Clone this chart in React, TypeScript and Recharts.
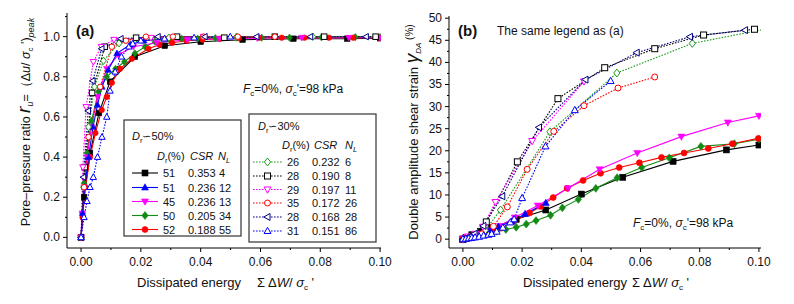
import React from 'react';
import { LineChart, Line, XAxis, YAxis } from 'recharts';

// ---- data: ΣΔW/σc' with r_u and γDA(%) at the same points ----
// Dr ~ 50 %, solid lines
const x4 = [0, 0.001, 0.003, 0.006, 0.0097, 0.018, 0.028, 0.040, 0.054, 0.071, 0.089, 0.1];
const ru4 = [0, 0.2, 0.42, 0.62, 0.776, 0.9, 0.955, 0.975, 0.985, 0.99, 0.99, 0.992];
const ga4 = [0, 0.3, 1.0, 1.8, 2.6, 4.5, 6.6, 10.2, 14.0, 17.6, 20.2, 21.3];

const x12 = [0, 0.0005, 0.0012, 0.0025, 0.004, 0.0055, 0.007, 0.0091, 0.012, 0.0164, 0.021, 0.028];
const ru12 = [0, 0.12, 0.25, 0.4, 0.55, 0.66, 0.75, 0.834, 0.917, 0.96, 0.98, 0.99];
const ga12 = [0, 0.1, 0.25, 0.5, 0.8, 1.1, 1.5, 2.0, 2.8, 4.0, 5.7, 8.2];

const x13 = [0, 0.0004, 0.001, 0.002, 0.0035, 0.0055, 0.0086, 0.0125, 0.0175, 0.0253, 0.0355, 0.0462, 0.0589, 0.0738, 0.0895, 0.1];
const ru13 = [0, 0.12, 0.25, 0.4, 0.55, 0.7, 0.84, 0.91, 0.95, 0.97, 0.985, 0.99, 0.993, 0.995, 0.995, 0.995];
const ga13 = [0, 0.1, 0.2, 0.4, 0.7, 1.1, 1.9, 3.0, 4.9, 7.6, 11.5, 15.8, 19.5, 23.2, 26.4, 27.9];

const x34 = [0, 0.0004, 0.001, 0.002, 0.0035, 0.0058, 0.0086, 0.0115, 0.0145, 0.018, 0.0214, 0.0247, 0.0296, 0.0336, 0.039, 0.0449, 0.0521, 0.0604, 0.0697, 0.0804, 0.0917, 0.1];
const ru34 = [0, 0.12, 0.27, 0.42, 0.58, 0.726, 0.8, 0.84, 0.875, 0.917, 0.95, 0.975, 0.985, 0.99, 0.99, 0.993, 0.995, 0.995, 0.995, 0.997, 0.998, 0.998];
const ga34 = [0, 0.1, 0.2, 0.35, 0.6, 1.0, 1.4, 1.8, 2.2, 2.7, 3.4, 4.2, 5.4, 7.1, 9.0, 11.5, 13.9, 16.2, 18.4, 21.0, 21.6, 22.6];

const x55 = [0, 0.0005, 0.0015, 0.003, 0.0048, 0.0069, 0.0086, 0.0103, 0.013, 0.017, 0.0225, 0.0262, 0.0305, 0.0352, 0.0406, 0.0465, 0.0528, 0.0596, 0.0671, 0.0747, 0.0829, 0.091, 0.0998];
const ru55 = [0, 0.1, 0.25, 0.4, 0.52, 0.635, 0.7, 0.77, 0.84, 0.89, 0.94, 0.96, 0.97, 0.98, 0.985, 0.99, 0.993, 0.995, 0.995, 0.995, 0.995, 0.995, 0.995];
const ga55 = [0, 0.1, 0.25, 0.45, 0.7, 1.0, 1.3, 1.7, 2.5, 4.0, 5.9, 7.4, 9.4, 11.5, 13.3, 14.9, 16.2, 17.3, 18.5, 19.5, 20.5, 21.6, 22.8];

// Dr ~ 30 %, dotted lines
const x6 = [0, 0.0008, 0.0025, 0.0045, 0.0075, 0.0127, 0.0294, 0.052, 0.0775, 0.105];
const ru6 = [0, 0.25, 0.55, 0.75, 0.88, 0.967, 0.995, 1.0, 1.0, 1.0];
const ga6 = [0, 0.2, 0.5, 1.0, 2.0, 6.6, 24.3, 37.6, 44.3, 47.9];

const x8 = [0, 0.0012, 0.0037, 0.0079, 0.0184, 0.0321, 0.0479, 0.0648, 0.0813, 0.0985];
const ru8 = [0, 0.35, 0.72, 0.95, 0.995, 1.0, 0.995, 1.0, 1.0, 1.0];
const ga8 = [0, 0.3, 0.9, 3.9, 17.5, 31.8, 38.8, 43.1, 46.2, 47.5];

const x11 = [0, 0.0006, 0.0017, 0.0041, 0.0068, 0.011, 0.0234, 0.0409];
const ru11 = [0, 0.35, 0.65, 0.875, 0.95, 0.985, 0.995, 1.0];
const ga11 = [0, 0.2, 0.6, 1.2, 2.8, 8.4, 22.2, 35.7];

const x26 = [0, 0.001, 0.0025, 0.0064, 0.0103, 0.015, 0.0217, 0.0307, 0.0409, 0.0524, 0.0648];
const ru26 = [0, 0.25, 0.5, 0.75, 0.95, 0.98, 1.0, 1.0, 1.0, 1.0, 1.0];
const ga26 = [0, 0.2, 0.5, 1.2, 2.9, 7.3, 15.8, 24.4, 30.2, 34.2, 36.7];

const x28 = [0, 0.0008, 0.0024, 0.0039, 0.0069, 0.0133, 0.0257, 0.0414, 0.0587, 0.0767, 0.0953];
const ru28 = [0, 0.3, 0.63, 0.78, 0.94, 0.99, 1.0, 1.0, 1.0, 1.0, 1.0];
const ga28 = [0, 0.2, 0.6, 1.2, 3.0, 9.7, 25.3, 36.1, 42.2, 45.8, 47.3];

const x86 = [0, 0.001, 0.002, 0.003, 0.0041, 0.0055, 0.007, 0.0086, 0.0097, 0.0114, 0.0135, 0.016, 0.0173, 0.02, 0.0279, 0.0378, 0.0499];
const ru86 = [0, 0.1, 0.18, 0.25, 0.3, 0.4, 0.5, 0.6, 0.73, 0.825, 0.9, 0.95, 0.965, 0.98, 0.99, 0.995, 1.0];
const ga86 = [0, 0.1, 0.2, 0.3, 0.4, 0.55, 0.8, 1.0, 1.2, 1.7, 2.6, 3.8, 4.5, 9.3, 21.0, 29.2, 35.8];

// legend tables
const dr50 = ['51', '51', '45', '50', '52'];
const csr50 = ['0.353', '0.236', '0.236', '0.205', '0.188'];
const nl50 = ['4', '12', '13', '34', '55'];
const dr30 = ['26', '28', '29', '35', '28', '31'];
const csr30 = ['0.232', '0.190', '0.197', '0.172', '0.168', '0.151'];
const nl30 = ['6', '8', '11', '26', '28', '86'];

// ticks
const xTicks = [0, 0.01, 0.02, 0.03, 0.04, 0.05, 0.06, 0.07, 0.08, 0.09, 0.1];
const xMajor = [0, 0.02, 0.04, 0.06, 0.08, 0.1];
const ruTicks = [0, 0.1, 0.2, 0.3, 0.4, 0.5, 0.6, 0.7, 0.8, 0.9, 1.0, 1.1];
const ruMajor = [0, 0.2, 0.4, 0.6, 0.8, 1.0];
const gaTicks = [0, 2.5, 5, 7.5, 10, 12.5, 15, 17.5, 20, 22.5, 25, 27.5, 30, 32.5, 35, 37.5, 40, 42.5, 45, 47.5, 50];
const gaMajor = [0, 5, 10, 15, 20, 25, 30, 35, 40, 45, 50];

const FONT = '"Liberation Sans", Arial, sans-serif';

type Style = { color: string; shape: string; filled: boolean };
const styles: Record<string, Style> = {
  t4: { color: '#000000', shape: 'square', filled: true },
  t12: { color: '#0000ff', shape: 'up', filled: true },
  t13: { color: '#ff00ff', shape: 'down', filled: true },
  t34: { color: '#138a13', shape: 'diamond', filled: true },
  t55: { color: '#ff0000', shape: 'circle', filled: true },
  t6: { color: '#1e9a1e', shape: 'diamond', filled: false },
  t8: { color: '#000000', shape: 'square', filled: false },
  t11: { color: '#ff00ff', shape: 'down', filled: false },
  t26: { color: '#ff0000', shape: 'circle', filled: false },
  t28: { color: '#000080', shape: 'left', filled: false },
  t86: { color: '#0000ff', shape: 'up', filled: false },
};

const pts = (xs: number[], ys: number[]) => xs.map((x, i) => ({ x, y: ys[i] }));

// drawing order: solid tests first, dotted on top
const series = [
  { id: 't4', a: pts(x4, ru4), b: pts(x4, ga4) },
  { id: 't34', a: pts(x34, ru34), b: pts(x34, ga34) },
  { id: 't55', a: pts(x55, ru55), b: pts(x55, ga55) },
  { id: 't13', a: pts(x13, ru13), b: pts(x13, ga13) },
  { id: 't12', a: pts(x12, ru12), b: pts(x12, ga12) },
  { id: 't6', a: pts(x6, ru6), b: pts(x6, ga6) },
  { id: 't8', a: pts(x8, ru8), b: pts(x8, ga8) },
  { id: 't11', a: pts(x11, ru11), b: pts(x11, ga11) },
  { id: 't26', a: pts(x26, ru26), b: pts(x26, ga26) },
  { id: 't28', a: pts(x28, ru28), b: pts(x28, ga28) },
  { id: 't86', a: pts(x86, ru86), b: pts(x86, ga86) },
];

function Marker({ cx, cy, st, size }: { cx: number; cy: number; st: Style; size: number }) {
  const s = size;
  const fill = st.filled ? st.color : '#ffffff';
  const sw = st.filled ? 0.6 : 1;
  const p = { fill, stroke: st.color, strokeWidth: sw };
  if (st.shape === 'square') return <rect x={cx - s / 2} y={cy - s / 2} width={s} height={s} {...p} />;
  if (st.shape === 'circle') return <circle cx={cx} cy={cy} r={s / 2} {...p} />;
  let d = '';
  if (st.shape === 'up') d = `${cx},${cy - s * 0.62} ${cx - s * 0.58},${cy + s * 0.42} ${cx + s * 0.58},${cy + s * 0.42}`;
  if (st.shape === 'down') d = `${cx},${cy + s * 0.62} ${cx - s * 0.58},${cy - s * 0.42} ${cx + s * 0.58},${cy - s * 0.42}`;
  if (st.shape === 'left') d = `${cx - s * 0.62},${cy} ${cx + s * 0.42},${cy - s * 0.58} ${cx + s * 0.42},${cy + s * 0.58}`;
  if (st.shape === 'diamond') d = `${cx},${cy - s * 0.66} ${cx + s * 0.52},${cy} ${cx},${cy + s * 0.66} ${cx - s * 0.52},${cy}`;
  return <polygon points={d} {...p} />;
}

const isIn = (arr: number[], v: number) => arr.some((m) => Math.abs(m - v) < 1e-9);

type Geo = { left: number; right: number; top: number; bottom: number };

const xTickBottom = (g: Geo) => (props: any) => {
  const { x, payload } = props;
  const major = isIn(xMajor, payload.value);
  return (
    <g>
      <line x1={x} x2={x} y1={g.bottom} y2={g.bottom + (major ? 4 : 2)} stroke="#000" />
      {major && (
        <text x={x} y={266} textAnchor="middle" fontSize={12} fill="#111" fontFamily={FONT}>
          {payload.value.toFixed(2)}
        </text>
      )}
    </g>
  );
};

const xTickTop = (g: Geo) => (props: any) => {
  const { x, payload } = props;
  const major = isIn(xMajor, payload.value);
  return <line x1={x} x2={x} y1={g.top} y2={g.top - (major ? 4 : 2)} stroke="#000" />;
};

const yTickLeft = (g: Geo, majors: number[], fmt: (v: number) => string, gap: number) => (props: any) => {
  const { y, payload } = props;
  const major = isIn(majors, payload.value);
  return (
    <g>
      <line x1={g.left} x2={g.left - (major ? 4 : 2)} y1={y} y2={y} stroke="#000" />
      {major && (
        <text x={g.left - gap} y={y + 4} textAnchor="end" fontSize={12} fill="#111" fontFamily={FONT}>
          {fmt(payload.value)}
        </text>
      )}
    </g>
  );
};

const yTickRight = (g: Geo, majors: number[]) => (props: any) => {
  const { y, payload } = props;
  const major = isIn(majors, payload.value);
  return <line x1={g.right} x2={g.right - (major ? 4 : 2)} y1={y} y2={y} stroke="#000" />;
};

function Panel(props: {
  width: number;
  geo: Geo;
  which: 'a' | 'b';
  yDomain: [number, number];
  yTicks: number[];
  yMajor: number[];
  yFmt: (v: number) => string;
  labelGap: number;
  xDomain: [number, number];
}) {
  const { width, geo, which, yDomain, yTicks, yMajor, yFmt, labelGap, xDomain } = props;
  const size = which === 'a' ? 5.5 : 6;
  return (
    <LineChart
      width={width}
      height={304}
      margin={{ top: geo.top, right: width - geo.right, bottom: 0, left: 0 }}
    >
      <XAxis
        xAxisId="x"
        dataKey="x"
        type="number"
        domain={xDomain}
        allowDataOverflow
        ticks={xTicks}
        interval={0}
        height={304 - geo.bottom}
        tickLine={false}
        tick={xTickBottom(geo)}
        axisLine={{ stroke: '#000' }}
      />
      <XAxis
        xAxisId="xt"
        orientation="top"
        type="number"
        domain={xDomain}
        allowDataOverflow
        ticks={xTicks}
        interval={0}
        height={0}
        tickLine={false}
        tick={xTickTop(geo)}
        axisLine={{ stroke: '#000' }}
      />
      <YAxis
        yAxisId="y"
        type="number"
        domain={yDomain}
        allowDataOverflow
        ticks={yTicks}
        interval={0}
        width={geo.left}
        tickLine={false}
        tick={yTickLeft(geo, yMajor, yFmt, labelGap)}
        axisLine={{ stroke: '#000' }}
      />
      <YAxis
        yAxisId="yr"
        orientation="right"
        type="number"
        domain={yDomain}
        allowDataOverflow
        ticks={yTicks}
        interval={0}
        width={0}
        tickLine={false}
        tick={yTickRight(geo, yMajor)}
        axisLine={{ stroke: '#000' }}
      />
      {series.map((s) => {
        const st = styles[s.id];
        return (
          <Line
            key={s.id}
            xAxisId="x"
            yAxisId="y"
            data={which === 'a' ? s.a : s.b}
            dataKey="y"
            type="linear"
            stroke={st.color}
            strokeWidth={1.1}
            strokeDasharray={st.filled ? undefined : '1.6 1.4'}
            isAnimationActive={false}
            dot={(p: any) =>
              p.cx == null || p.cy == null ? (
                <g key={`${s.id}-${p.index}`} />
              ) : (
                <g key={`${s.id}-${p.index}`}>
                  <Marker cx={p.cx} cy={p.cy} st={st} size={size} />
                </g>
              )
            }
            activeDot={false}
          />
        );
      })}
    </LineChart>
  );
}

function LegendRow({ x0, x1, y, id, dr, csr, nl, cols }: any) {
  const st = styles[id];
  const ly = y - 4;
  return (
    <g>
      <line x1={x0} x2={x1} y1={ly} y2={ly} stroke={st.color} strokeWidth={1.1} strokeDasharray={st.filled ? undefined : '1.6 1.4'} />
      <Marker cx={(x0 + x1) / 2} cy={ly} st={st} size={6} />
      <text x={cols[0]} y={y}>{dr}</text>
      <text x={cols[1]} y={y}>{csr}</text>
      <text x={cols[2]} y={y}>{nl}</text>
    </g>
  );
}

function Overlay() {
  const ids50 = ['t4', 't12', 't13', 't34', 't55'];
  const ids30 = ['t6', 't8', 't11', 't26', 't28', 't86'];
  const rows50 = [177, 191.5, 205.5, 219.5, 233.5];
  const rows30 = [166, 180, 193.5, 207, 221, 235];
  return (
    <svg width={794} height={304} style={{ position: 'absolute', left: 0, top: 0, pointerEvents: 'none' }} fontFamily={FONT} fill="#111">
      {/* panel (a) */}
      <text x={76} y={36} fontSize={15} fontWeight="bold">(a)</text>
      <text x={243} y={93} fontSize={12}>
        <tspan fontStyle="italic">F</tspan><tspan fontSize={8} dy={3}>c</tspan>
        <tspan dy={-3}>=0%, </tspan><tspan fontStyle="italic">σ</tspan><tspan fontSize={8} dy={3}>c</tspan>
        <tspan dy={-3}>'=98 kPa</tspan>
      </text>

      <rect x={124} y={120} width={117} height={116} fill="#fff" stroke="#333" strokeWidth={1.2} />
      <g fontSize={11}>
        <text x={132} y={140}>
          <tspan fontStyle="italic">D</tspan><tspan fontSize={7.5} dy={3}>r</tspan><tspan dy={-3}>∽50%</tspan>
        </text>
        <text x={157} y={160}>
          <tspan fontStyle="italic">D</tspan><tspan fontSize={7.5} dy={3}>r</tspan><tspan dy={-3}>(%)</tspan>
        </text>
        <text x={190} y={160} fontStyle="italic">CSR</text>
        <text x={218} y={160}>
          <tspan fontStyle="italic">N</tspan><tspan fontSize={7.5} dy={3} fontStyle="italic">L</tspan>
        </text>
        {ids50.map((id, i) => (
          <LegendRow key={id} x0={132} x1={158} y={rows50[i]} id={id} dr={dr50[i]} csr={csr50[i]} nl={nl50[i]} cols={[163, 188, 219]} />
        ))}
      </g>

      <rect x={249} y={114} width={127} height={128} fill="#fff" stroke="#333" strokeWidth={1.2} />
      <g fontSize={11}>
        <text x={258} y={130}>
          <tspan fontStyle="italic">D</tspan><tspan fontSize={7.5} dy={3}>r</tspan><tspan dy={-3}>∽30%</tspan>
        </text>
        <text x={282} y={149}>
          <tspan fontStyle="italic">D</tspan><tspan fontSize={7.5} dy={3}>r</tspan><tspan dy={-3}>(%)</tspan>
        </text>
        <text x={314} y={149} fontStyle="italic">CSR</text>
        <text x={345} y={149}>
          <tspan fontStyle="italic">N</tspan><tspan fontSize={7.5} dy={3} fontStyle="italic">L</tspan>
        </text>
        {ids30.map((id, i) => (
          <LegendRow key={id} x0={253} x1={282} y={rows30[i]} id={id} dr={dr30[i]} csr={csr30[i]} nl={nl30[i]} cols={[287, 312, 345]} />
        ))}
      </g>

      <text transform="translate(30,122) rotate(-90)" textAnchor="middle" fontSize={12.5}>
        Pore–pressure ratio <tspan fontStyle="italic" fontSize={19}>r</tspan>
        <tspan fontStyle="italic" fontSize={9} dy={3}>u</tspan>
        <tspan dy={-3}>=（Δ</tspan><tspan fontStyle="italic">u</tspan><tspan>/ </tspan>
        <tspan fontStyle="italic">σ</tspan><tspan fontSize={8} dy={3}>c</tspan><tspan dy={-3}> ')</tspan>
        <tspan fontStyle="italic" fontSize={9} dy={4}>peak</tspan>
      </text>

      <text x={137} y={287} fontSize={13}>Dissipated energy</text>
      <text x={257} y={287} fontSize={13}>
        Σ Δ<tspan fontStyle="italic">W</tspan>/ <tspan fontStyle="italic">σ</tspan>
        <tspan fontSize={8} dy={3}>c</tspan><tspan dy={-3}> '</tspan>
      </text>

      {/* panel (b) */}
      <text x={458} y={36} fontSize={15} fontWeight="bold">(b)</text>
      <text x={497} y={35} fontSize={12}>The same legend as (a)</text>
      <text x={633} y={227} fontSize={12}>
        <tspan fontStyle="italic">F</tspan><tspan fontSize={8} dy={3}>c</tspan>
        <tspan dy={-3}>=0%, </tspan><tspan fontStyle="italic">σ</tspan><tspan fontSize={8} dy={3}>c</tspan>
        <tspan dy={-3}>'=98 kPa</tspan>
      </text>

      <text transform="translate(418,132) rotate(-90)" textAnchor="middle" fontSize={13}>
        Double amplitude shear strain  <tspan fontStyle="italic" fontSize={19}>γ</tspan>
        <tspan fontStyle="italic" fontSize={8} dy={3}>DA</tspan>
        <tspan fontSize={10} dy={-8}> (%)</tspan>
      </text>

      <text x={523} y={287} fontSize={13}>Dissipated energy</text>
      <text x={632} y={287} fontSize={13}>
        Σ Δ<tspan fontStyle="italic">W</tspan>/ <tspan fontStyle="italic">σ</tspan>
        <tspan fontSize={8} dy={3}>c</tspan><tspan dy={-3}> '</tspan>
      </text>
    </svg>
  );
}

export default function App() {
  const geoA: Geo = { left: 67, right: 381, top: 13, bottom: 248 };
  const geoB: Geo = { left: 49, right: 361, top: 16, bottom: 248 };
  return (
    <div style={{ position: 'absolute', left: 0, top: 0, width: 794, height: 304, background: '#fff', fontFamily: FONT }}>
      <div style={{ position: 'absolute', left: 0, top: 0 }}>
        <Panel
          width={400}
          geo={geoA}
          which="a"
          xDomain={[-0.0047, 0.1003]}
          yDomain={[-0.053, 1.118]}
          yTicks={ruTicks}
          yMajor={ruMajor}
          yFmt={(v) => v.toFixed(1)}
          labelGap={7}
        />
      </div>
      <div style={{ position: 'absolute', left: 400, top: 0 }}>
        <Panel
          width={394}
          geo={geoB}
          which="b"
          xDomain={[-0.0047, 0.1007]}
          yDomain={[-2.0, 50.5]}
          yTicks={gaTicks}
          yMajor={gaMajor}
          yFmt={(v) => String(v)}
          labelGap={7}
        />
      </div>
      <Overlay />
    </div>
  );
}
